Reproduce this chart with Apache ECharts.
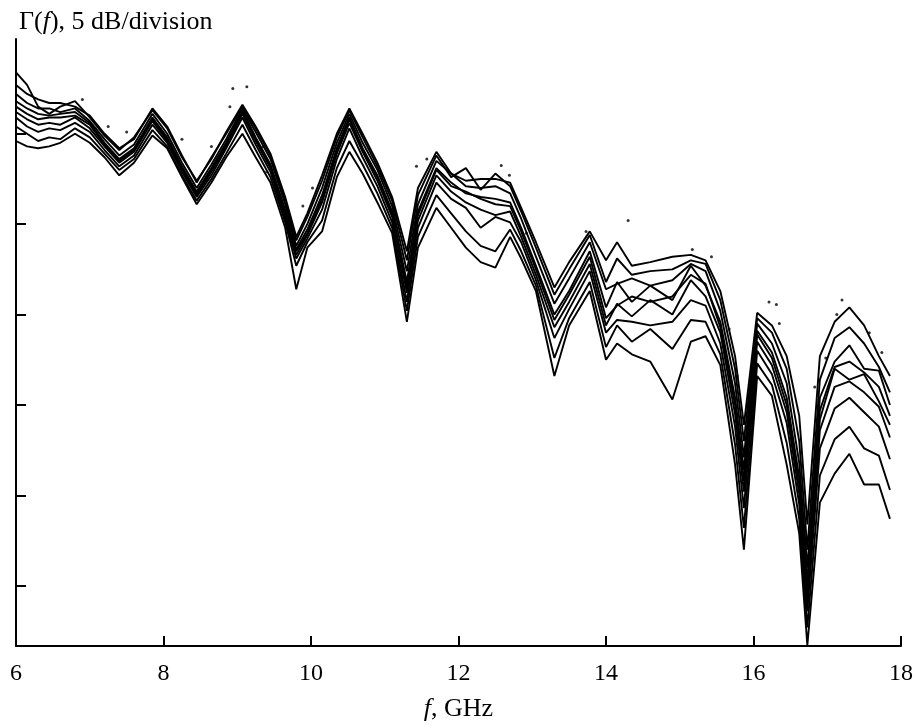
<!DOCTYPE html>
<html lang="en">
<head>
    <meta charset="UTF-8">
    <title>Gamma(f)</title>
    <script src="https://cdn.jsdelivr.net/npm/echarts@6/dist/echarts.min.js"></script>
    <style>
        body { margin: 0; background: #fff; }
        #chart { width: 916px; height: 727px; }
    </style>
</head>
<body>
<div id="chart"></div>
<script>
    // frequency points, GHz (shared by all traces)
    var freqs = [6.0, 6.15, 6.3, 6.45, 6.6, 6.8, 7.0, 7.2, 7.4, 7.6, 7.85, 8.05, 8.25, 8.45, 8.65, 8.85,
        9.07, 9.25, 9.45, 9.65, 9.8, 9.95, 10.15, 10.35, 10.52, 10.7, 10.9, 11.1, 11.3, 11.45, 11.7, 11.9,
        12.1, 12.3, 12.5, 12.7, 12.85, 13.05, 13.3, 13.5, 13.78, 14.0, 14.15, 14.35, 14.6, 14.9, 15.15,
        15.35, 15.55, 15.75, 15.87, 16.05, 16.25, 16.45, 16.62, 16.73, 16.9, 17.1, 17.3, 17.5, 17.7, 17.85];

    // reflection traces, dB (0 dB = top tick)
    var traceA = [3.4, 2.7, 1.5, 1.1, 1.5, 1.8, 0.9, -0.1, -0.9, -0.2, 1.3, 0.3, -1.3, -2.6, -1.4, 0.1, 1.6, 0.4, -1.1, -3.5, -5.7, -4.4, -2.3, 0.0, 1.4, 0.0, -1.6, -3.5, -6.5, -3.0, -1.0, -2.2, -2.6, -2.5, -2.5, -2.7, -4.1, -6.0, -8.5, -7.1, -5.4, -7.0, -6.0, -7.3, -7.1, -6.8, -6.7, -7.0, -8.7, -12.3, -16.1, -9.9, -10.6, -12.3, -15.6, -21.6, -12.3, -10.4, -9.6, -10.6, -12.3, -13.4];
    var traceB = [2.7, 2.2, 1.9, 1.7, 1.7, 1.5, 1.0, 0.0, -0.8, -0.3, 1.4, 0.4, -1.2, -2.7, -1.3, 0.0, 1.5, 0.3, -1.2, -3.7, -5.9, -4.6, -2.6, -0.2, 1.3, -0.2, -1.8, -3.7, -7.0, -3.4, -1.2, -2.4, -1.9, -3.1, -2.2, -2.9, -4.3, -6.3, -8.9, -7.5, -5.6, -8.2, -6.9, -7.8, -7.6, -7.5, -7.0, -7.2, -9.2, -13.0, -17.0, -10.2, -11.0, -13.0, -17.0, -23.0, -13.6, -11.3, -10.7, -11.6, -12.9, -14.3];
    var traceC = [2.2, 1.7, 1.4, 1.4, 1.2, 1.4, 0.7, -0.3, -1.2, -0.6, 1.1, 0.0, -1.6, -3.0, -1.7, -0.3, 1.4, 0.1, -1.4, -3.9, -6.2, -5.0, -3.0, -0.5, 1.1, -0.5, -2.0, -4.0, -7.6, -3.9, -1.5, -2.2, -2.9, -3.0, -2.9, -3.3, -4.7, -6.8, -9.4, -8.0, -6.0, -8.6, -8.3, -8.0, -8.4, -8.1, -7.2, -7.6, -9.8, -13.8, -17.9, -10.5, -11.6, -13.8, -18.2, -24.0, -14.6, -12.6, -11.7, -13.0, -13.1, -15.0];
    var traceD = [1.8, 1.4, 1.1, 1.0, 1.1, 1.2, 0.6, -0.5, -1.4, -0.8, 0.9, -0.2, -1.8, -3.2, -1.9, -0.5, 1.3, -0.2, -1.7, -4.2, -6.4, -5.3, -3.4, -0.8, 0.9, -0.8, -2.3, -4.3, -8.2, -4.3, -1.9, -2.7, -3.3, -3.5, -3.6, -3.8, -5.2, -7.3, -10.0, -8.7, -6.5, -9.6, -8.2, -9.3, -8.4, -9.2, -7.3, -8.4, -10.4, -14.6, -18.6, -10.9, -12.1, -14.6, -19.0, -24.8, -15.3, -12.9, -12.6, -13.2, -14.0, -15.6];
    var traceE = [1.5, 1.1, 0.8, 0.9, 0.9, 1.0, 0.5, -0.6, -1.5, -0.9, 0.8, -0.3, -1.9, -3.3, -2.0, -0.6, 1.2, -0.3, -1.8, -4.4, -6.5, -5.5, -3.6, -0.9, 0.8, -0.9, -2.4, -4.4, -8.5, -4.5, -2.0, -2.9, -3.2, -3.6, -3.9, -4.0, -5.4, -7.5, -10.3, -8.9, -6.8, -10.2, -9.5, -9.0, -9.3, -9.0, -7.8, -8.3, -10.7, -15.0, -19.2, -11.1, -12.4, -15.0, -19.4, -25.3, -15.8, -13.0, -13.6, -13.3, -14.8, -16.1];
    var traceF = [1.2, 0.8, 0.5, 0.6, 0.5, 0.9, 0.3, -0.7, -1.6, -1.0, 0.7, -0.4, -2.0, -3.4, -2.1, -0.7, 1.1, -0.4, -1.9, -4.5, -6.7, -5.6, -3.8, -1.1, 0.6, -1.0, -2.6, -4.6, -8.8, -4.8, -2.3, -3.2, -3.8, -4.2, -4.5, -4.3, -5.7, -7.8, -10.7, -9.3, -7.2, -10.6, -9.4, -10.1, -9.2, -10.0, -8.1, -9.0, -11.0, -15.5, -19.8, -11.5, -12.8, -15.4, -19.9, -25.8, -16.4, -14.0, -13.7, -14.3, -15.1, -16.8];
    var traceG = [0.9, 0.4, 0.1, 0.3, 0.2, 0.6, 0.1, -0.9, -1.8, -1.2, 0.5, -0.5, -2.1, -3.5, -2.3, -0.8, 0.9, -0.6, -2.1, -4.7, -6.9, -5.8, -4.2, -1.4, 0.3, -1.3, -2.9, -4.9, -9.3, -5.2, -2.7, -3.6, -4.1, -5.2, -4.6, -4.9, -6.0, -8.1, -11.3, -9.7, -7.6, -11.0, -10.3, -10.4, -10.6, -10.4, -9.2, -9.5, -11.6, -16.2, -20.7, -12.0, -13.3, -16.0, -20.5, -26.4, -17.4, -15.2, -14.6, -15.4, -16.2, -18.0];
    var traceH = [0.4, 0.0, -0.4, -0.2, -0.3, 0.3, -0.2, -1.1, -2.0, -1.4, 0.2, -0.7, -2.3, -3.7, -2.5, -1.1, 0.5, -0.9, -2.4, -4.9, -7.3, -6.0, -4.8, -1.9, -0.4, -1.7, -3.3, -5.2, -9.8, -5.7, -3.4, -4.4, -5.4, -6.2, -6.5, -5.3, -6.5, -8.4, -12.4, -10.2, -8.2, -11.8, -10.6, -11.5, -10.8, -11.9, -10.3, -10.4, -12.2, -17.2, -21.8, -12.7, -13.9, -17.1, -21.3, -27.3, -18.9, -16.9, -16.2, -17.4, -17.8, -19.7];
    var traceI = [-0.4, -0.7, -0.8, -0.7, -0.5, 0.0, -0.5, -1.3, -2.3, -1.6, -0.1, -0.8, -2.4, -3.9, -2.7, -1.3, 0.0, -1.3, -2.7, -5.2, -8.6, -6.3, -5.4, -2.4, -1.0, -2.2, -3.8, -5.5, -10.4, -6.3, -4.1, -5.2, -6.3, -7.1, -7.4, -5.7, -6.9, -8.7, -13.4, -10.6, -8.7, -12.5, -11.6, -12.2, -12.6, -14.7, -11.5, -11.2, -12.8, -18.3, -23.0, -13.4, -14.5, -18.3, -22.1, -28.3, -20.4, -18.8, -17.7, -19.4, -19.4, -21.3];

    // stray plotter dots [GHz, dB]
    var strayDots = [[6.9, 1.9], [7.11, 0.4], [7.25, 0.4], [7.5, 0.1], [8.94, 2.5], [9.13, 2.6], [8.9, 1.5],
        [8.65, -0.7], [8.25, -0.3], [9.35, -0.7], [9.4, -2.1], [9.89, -4.0], [10.02, -3.0], [11.43, -1.8],
        [11.57, -1.4], [12.58, -1.75], [12.69, -2.3], [12.92, -5.5], [13.73, -5.4], [14.3, -4.8], [15.17, -6.4],
        [15.43, -6.8], [15.67, -10.8], [15.78, -13.4], [16.21, -9.3], [16.31, -9.45], [16.35, -10.5],
        [16.83, -14.0], [16.98, -12.4], [17.13, -10.0], [17.2, -9.2], [17.57, -11.0], [17.74, -12.1]];

    var xTicks = [6, 8, 10, 12, 14, 16, 18];
    var yTicks = [0, -5, -10, -15, -20, -25];

    var serif = "'Liberation Serif', 'DejaVu Serif', serif";
    var traces = [traceA, traceB, traceC, traceD, traceE, traceF, traceG, traceH, traceI];

    function pairs(vals) {
        var out = [];
        for (var i = 0; i < freqs.length; i++) {
            out.push([freqs[i], vals[i]]);
        }
        return out;
    }

    var series = traces.map(function (t) {
        return {
            type: 'line',
            data: pairs(t),
            showSymbol: false,
            lineStyle: {color: '#000', width: 1.9},
            z: 3
        };
    });
    series.push({
        type: 'scatter',
        data: strayDots,
        symbolSize: 3,
        itemStyle: {color: '#000'},
        z: 3
    });

    var chart = echarts.init(document.getElementById('chart'));
    chart.setOption({
        animation: false,
        backgroundColor: '#fff',
        title: {
            text: 'Γ({i|f}), 5 dB/division',
            left: 14,
            top: 4,
            textStyle: {
                fontFamily: serif, fontSize: 26, fontWeight: 'normal', color: '#000',
                rich: {i: {fontFamily: serif, fontSize: 26, fontStyle: 'italic', color: '#000'}}
            }
        },
        grid: {left: 16, right: 13, top: 39, bottom: 73},
        xAxis: {
            type: 'value',
            min: 6,
            max: 18,
            interval: 2,
            name: '{i|f}, GHz',
            nameLocation: 'middle',
            nameGap: 50,
            nameTextStyle: {
                fontFamily: serif, fontSize: 26, color: '#000',
                rich: {i: {fontFamily: serif, fontSize: 26, fontStyle: 'italic', color: '#000'}}
            },
            axisLine: {onZero: false, lineStyle: {color: '#000', width: 2}},
            axisTick: {inside: true, length: 10, lineStyle: {color: '#000', width: 2}, customValues: xTicks},
            axisLabel: {fontFamily: serif, fontSize: 24, color: '#000', margin: 16, customValues: xTicks},
            splitLine: {show: false}
        },
        yAxis: {
            type: 'value',
            min: -28.33,
            max: 5.24,
            axisLine: {show: true, onZero: false, lineStyle: {color: '#000', width: 2}},
            axisTick: {show: true, inside: true, length: 10, lineStyle: {color: '#000', width: 2}, customValues: yTicks},
            axisLabel: {show: false},
            splitLine: {show: false}
        },
        series: series
    });
</script>
</body>
</html>
